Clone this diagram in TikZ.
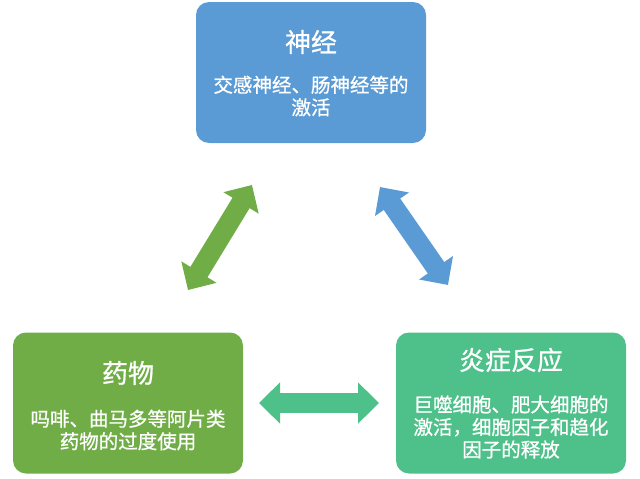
\documentclass[tikz,border=0pt]{standalone}
\usepackage{fontspec}
\setmainfont{Noto Sans CJK SC}[RawFeature={embolden=0.8}]
\usepackage{xcolor}
\usepackage{tikz}
\usetikzlibrary{arrows.meta}

\definecolor{nerveblue}{HTML}{5B9BD5}
\definecolor{druggreen}{HTML}{70AD47}
\definecolor{inflamgreen}{HTML}{4EC08A}

\begin{document}
\begin{tikzpicture}[x=1pt, y=-1pt,
    box/.style={rounded corners=13pt, minimum width=230pt,
      minimum height=141pt, inner sep=0pt},
    boxtitle/.style={text=white, font=\fontsize{26}{30}\selectfont},
    boxbody/.style={text=white, align=center,
      font=\fontsize{19.5}{22.5}\selectfont},
    link/.style={line width=20pt,
      {Triangle[length=21pt,width=40pt]}-{Triangle[length=21pt,width=40pt]}}]
  \useasboundingbox (0,0) rectangle (640,479);

  % ── Top: nerves ──────────────────────────
  \node[box, fill=nerveblue] (nerve) at (311,72.5) {};
  \node[boxtitle] (nerve-title) at (311,42) {神经};
  \node[boxbody] (nerve-body) at (311,96)
    {交感神经、肠神经等的\\激活};

  % ── Left: drugs ──────────────────────────
  \node[box, fill=druggreen] (drug) at (128,403) {};
  \node[boxtitle] (drug-title) at (128,373) {药物};
  \node[boxbody] (drug-body) at (128,430)
    {吗啡、曲马多等阿片类\\药物的过度使用};

  % ── Right: inflammation ──────────────────
  \node[box, fill=inflamgreen] (inflam) at (511,403) {};
  \node[boxtitle] (inflam-title) at (511,360) {炎症反应};
  \node[boxbody] (inflam-body) at (511,427)
    {巨噬细胞、肥大细胞的\\激活，细胞因子和趋化\\因子的释放};

  % ── Double arrows ────────────────────────
  \coordinate (drug-end) at (188,290);
  \coordinate (nerve-endl) at (252,185);
  \coordinate (nerve-endr) at (380,187);
  \coordinate (inflam-endt) at (448,285);
  \coordinate (drug-endr) at (259,403);
  \coordinate (inflam-endl) at (379,403);
  \draw[link, druggreen] (drug-end) -- (nerve-endl);
  \draw[link, nerveblue] (nerve-endr) -- (inflam-endt);
  \draw[link, inflamgreen] (drug-endr) -- (inflam-endl);
\end{tikzpicture}
\end{document}
